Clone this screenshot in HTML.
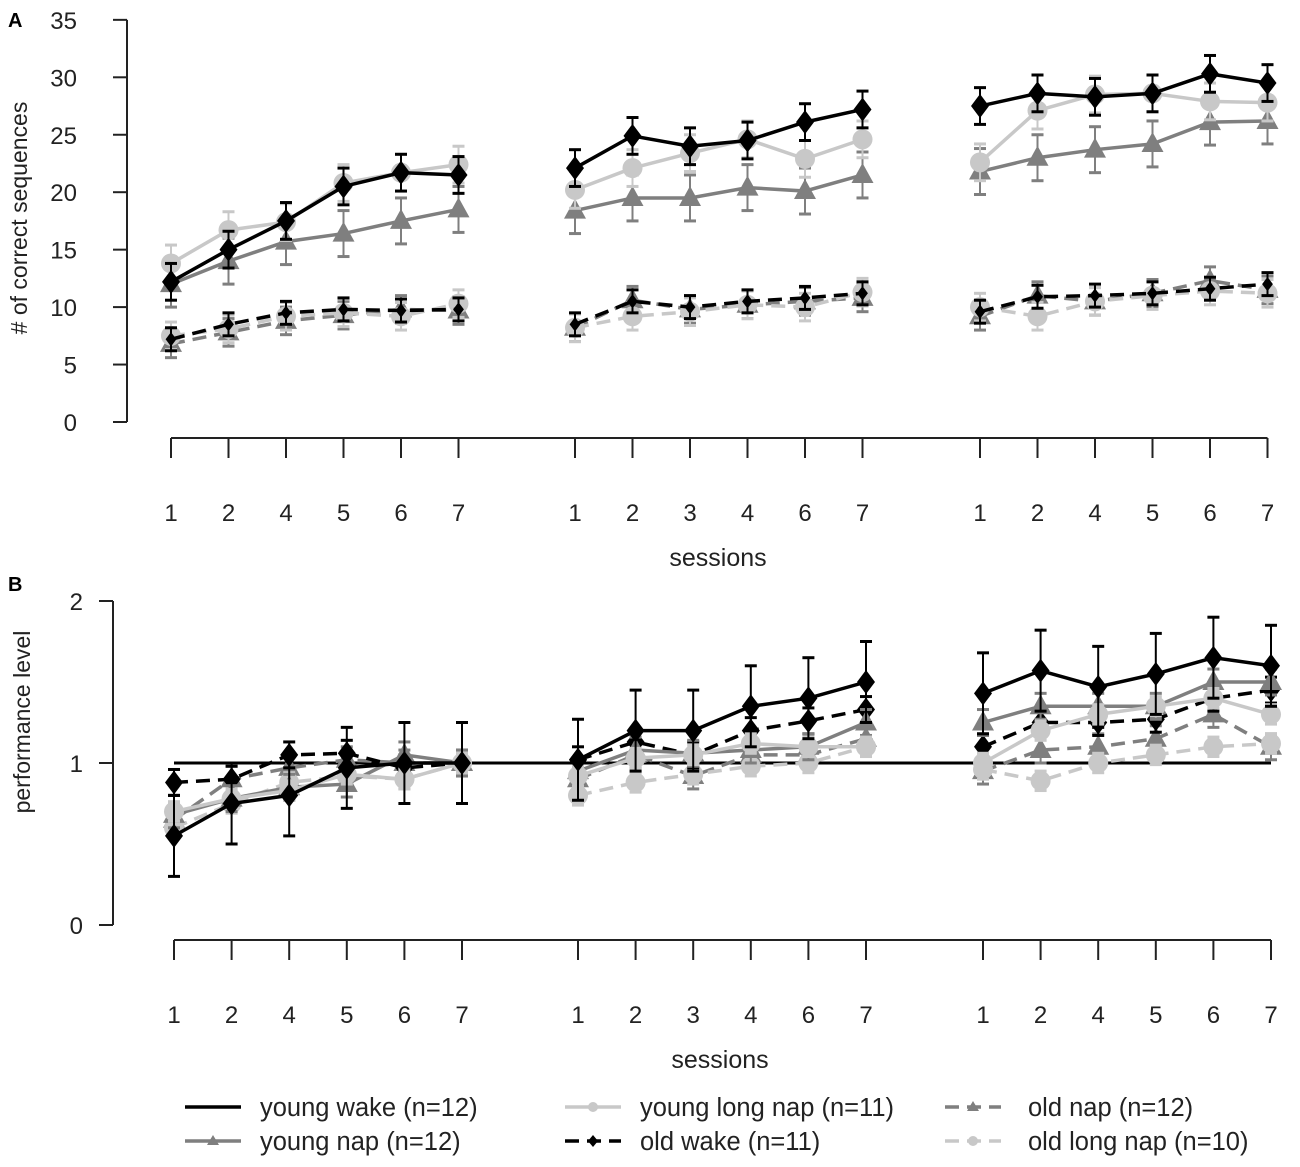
<!DOCTYPE html>
<html><head><meta charset="utf-8"><style>
body{margin:0;background:#fff;}
svg{display:block;font-family:"Liberation Sans",Arial,sans-serif;}
</style></head><body>
<svg id="chart" width="1300" height="1167" viewBox="0 0 1300 1167" xmlns="http://www.w3.org/2000/svg"></svg>
<script>
// ---- data ----
const sessionLabels = [["1","2","4","5","6","7"],["1","2","3","4","6","7"],["1","2","4","5","6","7"]];
const seriesNames = ["young-wake","young-nap","young-long-nap","old-wake","old-nap","old-long-nap"];
// Panel A (# correct sequences), 18 points each (3 groups x 6)
const aYoungWake   = [12.2,15,17.5,20.5,21.7,21.5, 22.1,24.9,24.0,24.5,26.1,27.2, 27.5,28.6,28.3,28.6,30.3,29.5];
const aYoungNap    = [12,14,15.7,16.4,17.5,18.5, 18.4,19.5,19.5,20.4,20.1,21.5, 21.8,23.0,23.7,24.2,26.1,26.2];
const aYoungLong   = [13.8,16.7,17.4,20.8,21.7,22.4, 20.2,22.1,23.4,24.6,22.9,24.6, 22.6,27.1,28.5,28.6,27.9,27.8];
const aOldWake     = [7.2,8.5,9.5,9.8,9.7,9.8, 8.5,10.5,10.0,10.5,10.8,11.2, 9.6,10.9,11.0,11.2,11.6,12.0];
const aOldNap      = [6.8,7.8,8.8,9.3,9.8,9.7, 8.2,10.6,9.8,10.2,10.5,10.8, 9.2,11.0,10.5,11.2,12.3,11.5];
const aOldLong     = [7.5,8.1,9.2,9.5,9.2,10.3, 8.2,9.2,9.6,10.2,10.0,11.3, 10.0,9.2,10.5,11.0,11.4,11.2];
const aErr = [1.6,2.0,1.6,1.0,1.2,1.2];
// Panel B (performance level)
const bYoungWake   = [0.55,0.75,0.8,0.97,1.0,1.0, 1.02,1.2,1.2,1.35,1.4,1.5, 1.43,1.57,1.47,1.55,1.65,1.6];
const bYoungNap    = [0.68,0.78,0.85,0.87,1.05,1.0, 0.95,1.08,1.06,1.08,1.1,1.25, 1.25,1.35,1.35,1.35,1.5,1.5];
const bYoungLong   = [0.7,0.78,0.83,0.93,0.9,1.0, 0.92,1.03,1.05,1.12,1.1,1.1, 1.0,1.2,1.3,1.35,1.4,1.3];
const bOldWake     = [0.88,0.9,1.05,1.06,0.97,1.0, 1.02,1.13,1.05,1.2,1.26,1.33, 1.1,1.25,1.25,1.27,1.4,1.45];
const bOldNap      = [0.65,0.9,0.97,1.02,1.0,1.0, 0.9,1.05,0.92,1.05,1.05,1.15, 0.95,1.08,1.1,1.15,1.3,1.1];
const bOldLong     = [0.6,0.75,0.88,0.92,0.9,1.0, 0.8,0.88,0.93,0.98,1.0,1.1, 0.96,0.89,1.0,1.05,1.1,1.12];
const bErr = [0.25,0.08,0.06,0.08,0.08,0.06];
const aTicks = [0,5,10,15,20,25,30,35];
const bTicks = [0,1,2];

const svg = document.getElementById('chart');
const NS = "http://www.w3.org/2000/svg";
function mk(tag, attrs, parent){const e=document.createElementNS(NS,tag);for(const k in attrs)e.setAttribute(k,attrs[k]);(parent||svg).appendChild(e);return e;}
const styles = [
 {c:"#000",dash:null,m:"diamond"},
 {c:"#7f7f7f",dash:null,m:"tri"},
 {c:"#c8c8c8",dash:null,m:"circle"},
 {c:"#000",dash:"14,8",m:"diamond"},
 {c:"#7f7f7f",dash:"14,8",m:"tri"},
 {c:"#c8c8c8",dash:"14,8",m:"circle"}];

function marker(g,type,x,y,c,s){
  let e;
  if(type==="diamond") e=mk('polygon',{points:`${x},${y-12*s} ${x+9*s},${y} ${x},${y+12*s} ${x-9*s},${y}`,fill:c},g);
  else if(type==="tri") e=mk('polygon',{points:`${x},${y-12*s} ${x+11*s},${y+8*s} ${x-11*s},${y+8*s}`,fill:c},g);
  else e=mk('circle',{cx:x,cy:y,r:10*s,fill:c},g);
  
  
}

function panel(cfg){
  const g=mk('g',{});
  
  
  const y=v=>cfg.y0-(v-cfg.vmin)*cfg.pxPer;
  const ya=mk('g',{},g);
  mk('line',{x1:cfg.ax,x2:cfg.ax,y1:y(cfg.ticks[0]),y2:y(cfg.ticks[cfg.ticks.length-1]),stroke:"#222","stroke-width":2},ya);
  cfg.ticks.forEach(t=>{
    mk('line',{x1:cfg.ax-14,x2:cfg.ax,y1:y(t),y2:y(t),stroke:"#222","stroke-width":2},ya);
    const tx=mk('text',{x:cfg.ax-cfg.tickOff,y:y(t)+9,"text-anchor":"end","font-size":24,fill:"#222"},ya);tx.textContent=t;
    
    
  });
  const yl=mk('text',{x:0,y:0,transform:`translate(${cfg.lx},${cfg.ly}) rotate(-90)`,"text-anchor":"middle","font-size":23,fill:"#222"},g);
  yl.textContent=cfg.ylabel;
  const xa=mk('g',{},g);
  const xs=[];
  cfg.gx.forEach(gx=>{for(let i=0;i<6;i++)xs.push(gx+i*cfg.dx);});
  mk('line',{x1:xs[0],x2:xs[17],y1:cfg.xaxY,y2:cfg.xaxY,stroke:"#222","stroke-width":2},xa);
  xs.forEach((x,i)=>{
    mk('line',{x1:x,x2:x,y1:cfg.xaxY,y2:cfg.xaxY+20,stroke:"#222","stroke-width":2},xa);
    const tx=mk('text',{x:x,y:cfg.xaxY+83,"text-anchor":"middle","font-size":24,fill:"#222"},xa);
    tx.textContent=sessionLabels[Math.floor(i/6)][i%6];
    
    
  });
  const xt=mk('text',{x:cfg.sx,y:cfg.xaxY+128,"text-anchor":"middle","font-size":25,fill:"#222"},g);
  xt.textContent="sessions";
  if(cfg.refLine){
    const r=mk('line',{x1:xs[0],x2:xs[17],y1:y(1),y2:y(1),stroke:"#000","stroke-width":3},g);
    
  }
  const order=[4,5,3,1,2,0];
  order.forEach(si=>{
    const st=styles[si],vals=cfg.data[si],err=cfg.err[si];
    const sg=mk('g',{},g);
    
    
    for(let gi=0;gi<3;gi++){
      const pts=[];
      for(let i=0;i<6;i++){const k=gi*6+i;pts.push(xs[k]+","+y(vals[k]));}
      const p=mk('polyline',{points:pts.join(" "),fill:"none",stroke:st.c,"stroke-width":3.5},sg);
      if(st.dash)p.setAttribute('stroke-dasharray',st.dash);
    }
    const ms=(st.dash&&cfg.name==="panel-a"&&st.m==="diamond")?0.6:1;
    vals.forEach((v,k)=>{
      const x=xs[k];
      mk('line',{x1:x,x2:x,y1:y(v-err),y2:y(v+err),stroke:st.c,"stroke-width":2},sg);
      mk('line',{x1:x-6,x2:x+6,y1:y(v+err),y2:y(v+err),stroke:st.c,"stroke-width":3},sg);
      mk('line',{x1:x-6,x2:x+6,y1:y(v-err),y2:y(v-err),stroke:st.c,"stroke-width":3},sg);
      marker(sg,st.m,x,y(v),st.c,ms);
    });
  });
  const L=mk('text',{x:cfg.letterX,y:cfg.letterY,"font-size":20,"font-weight":"bold",fill:"#000"},g);
  L.textContent=cfg.letter;
}

panel({name:"panel-a",letter:"A",letterX:8,letterY:27,ax:127,tickOff:50,y0:422,vmin:0,pxPer:11.49,ticks:aTicks,
  ylabel:"# of correct sequences",lx:27,ly:218,xaxY:438,gx:[171,575,980],dx:57.5,sx:718,refLine:false,
  data:[aYoungWake,aYoungNap,aYoungLong,aOldWake,aOldNap,aOldLong],err:aErr});
panel({name:"panel-b",letter:"B",letterX:8,letterY:591,ax:113,tickOff:30,y0:925,vmin:0,pxPer:162,ticks:bTicks,
  ylabel:"performance level",lx:30,ly:722,xaxY:940,gx:[174,578,983],dx:57.6,sx:720,refLine:true,
  data:[bYoungWake,bYoungNap,bYoungLong,bOldWake,bOldNap,bOldLong],err:bErr});

const leg=mk('g',{});


const legItems=[
 {s:0,x:185,y:1107,t:"young wake (n=12)"},
 {s:2,x:565,y:1107,t:"young long nap (n=11)"},
 {s:4,x:945,y:1107,t:"old nap (n=12)"},
 {s:1,x:185,y:1141,t:"young nap (n=12)"},
 {s:3,x:565,y:1141,t:"old wake (n=11)"},
 {s:5,x:945,y:1141,t:"old long nap (n=10)"}];
legItems.forEach(it=>{
  const st=styles[it.s];
  const eg=mk('g',{},leg);
  
  
  const l=mk('line',{x1:it.x,x2:it.x+56,y1:it.y,y2:it.y,stroke:st.c,"stroke-width":3.5},eg);
  if(st.dash)l.setAttribute('stroke-dasharray',"14,8");
  if(it.s!==0){
    const mx=it.x+28,my=it.y;
    if(st.m==="diamond")mk('polygon',{points:`${mx},${my-6} ${mx+5},${my} ${mx},${my+6} ${mx-5},${my}`,fill:st.c},eg);
    else if(st.m==="tri")mk('polygon',{points:`${mx},${my-6} ${mx+6},${my+4} ${mx-6},${my+4}`,fill:st.c},eg);
    else mk('circle',{cx:mx,cy:my,r:5,fill:st.c},eg);
  }
  const tx=mk('text',{x:it.x+(it.s>=4?83:75),y:it.y+9,"font-size":25.5,fill:"#222"},eg);
  tx.textContent=it.t;
});
</script>
</body></html>
